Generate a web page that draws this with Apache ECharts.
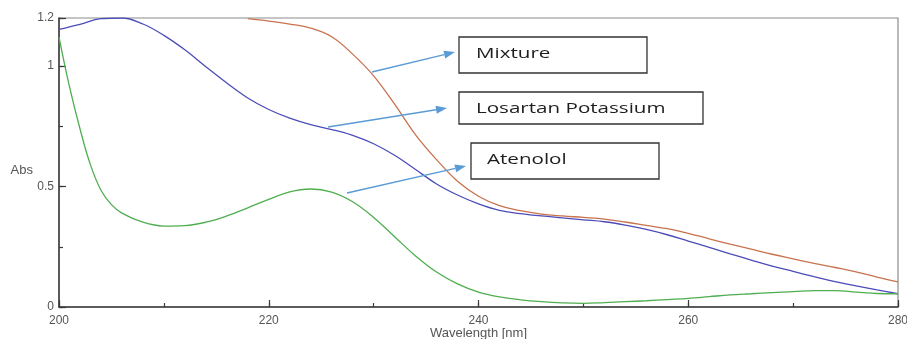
<!DOCTYPE html>
<html>
<head>
<meta charset="utf-8">
<script src="https://cdn.jsdelivr.net/npm/echarts@6/dist/echarts.min.js"></script>
<style>
html,body{margin:0;padding:0;background:#fff;}
#chart{width:907px;height:339px;}
</style>
</head>
<body>
<div id="chart"></div>
<script>
// ---- data ----
const xTickLabels = [200, 220, 240, 260, 280];
const yTickLabels = [0, 0.5, 1, 1.2];

const mixtureWl = [218,220,222,224,226,228,230,232,234,236,238,240,242,244,246,248,250,252,254,256,258,260,262,264,266,268,270,272,274,276,278,280];
const mixtureAbs = [1.197,1.187,1.175,1.158,1.122,1.050,0.960,0.842,0.715,0.612,0.522,0.460,0.421,0.400,0.386,0.378,0.372,0.365,0.353,0.339,0.325,0.306,0.283,0.261,0.240,0.219,0.200,0.181,0.164,0.146,0.124,0.104];

const losartanWl = [200,202,204,206,208,210,212,214,216,218,220,222,224,226,228,230,232,234,236,238,240,242,244,246,248,250,252,254,256,258,260,262,264,266,268,270,272,274,276,278,280];
const losartanAbs = [1.153,1.174,1.197,1.200,1.175,1.128,1.068,0.998,0.930,0.868,0.820,0.784,0.757,0.737,0.713,0.678,0.630,0.571,0.511,0.465,0.428,0.401,0.388,0.378,0.370,0.362,0.354,0.340,0.322,0.300,0.274,0.248,0.221,0.195,0.170,0.148,0.126,0.105,0.088,0.071,0.055];

const atenololWl = [200,201,202,203,204,205,206,208,210,212,214,216,218,220,222,224,226,228,230,232,234,236,238,240,242,244,246,248,250,252,254,256,258,260,262,264,266,268,270,272,274,276,278,280];
const atenololAbs = [1.121,0.915,0.740,0.590,0.485,0.425,0.390,0.352,0.336,0.338,0.352,0.378,0.412,0.447,0.478,0.490,0.477,0.437,0.372,0.292,0.212,0.145,0.096,0.062,0.042,0.030,0.022,0.017,0.015,0.018,0.022,0.026,0.031,0.036,0.043,0.050,0.055,0.060,0.064,0.068,0.068,0.062,0.056,0.055];

const seriesNames = ['Mixture', 'Losartan Potassium', 'Atenolol'];

// ---- build ----
function pairs(xs, ys) { return xs.map((x, i) => [x, ys[i]]); }

const chart = echarts.init(document.getElementById('chart'), null, { renderer: 'canvas' });

const axisFont = { fontFamily: 'Liberation Sans, Arial, sans-serif', fontSize: 12, color: '#555' };

const gridCfg = { left: 59, right: 9, top: 18, bottom: 32, containLabel: false, outerBoundsMode: 'none',
  show: true, borderColor: '#8c8c8c', borderWidth: 1.2, backgroundColor: '#fff' };

const option = {
  animation: false,
  backgroundColor: '#fff',
  grid: gridCfg,
  xAxis: [
    {
      type: 'value', min: 200, max: 280, interval: 20,
      name: 'Wavelength [nm]', nameLocation: 'middle', nameGap: 20, nameMoveOverlap: false,
      nameTextStyle: { fontFamily: 'Liberation Sans, Arial, sans-serif', fontSize: 13, color: '#555' },
      axisLine: { show: true, lineStyle: { color: '#3a3a3a', width: 1.5 } },
      axisTick: { show: true, inside: true, length: 7, lineStyle: { color: '#3a3a3a', width: 1.2 } },
      axisLabel: Object.assign({ margin: 8, formatter: v => xTickLabels.includes(v) ? String(v) : '' }, axisFont),
      splitLine: { show: false }
    },
    {
      type: 'value', min: 200, max: 280, interval: 10, position: 'bottom',
      axisLine: { show: false },
      axisTick: { show: true, inside: true, length: 4, lineStyle: { color: '#3a3a3a', width: 1.2 } },
      axisLabel: { show: false },
      splitLine: { show: false }
    }
  ],
  yAxis: [
    {
      type: 'value', min: 0, max: 1.2, interval: 0.5,
      name: 'Abs', nameLocation: 'middle', nameRotate: 0, nameGap: 26, nameMoveOverlap: false,
      nameTextStyle: { fontFamily: 'Liberation Sans, Arial, sans-serif', fontSize: 13, color: '#555', verticalAlign: 'top', padding: [1, 0, 0, 0] },
      axisLine: { show: true, lineStyle: { color: '#3a3a3a', width: 1.5 } },
      axisTick: { show: true, inside: true, length: 7, lineStyle: { color: '#3a3a3a', width: 1.2 } },
      axisLabel: Object.assign({ margin: 5, formatter: v => yTickLabels.includes(Math.round(v * 100) / 100) ? String(Math.round(v * 100) / 100) : '' }, axisFont),
      splitLine: { show: false }
    },
    {
      type: 'value', min: 0, max: 1.2, interval: 0.25, position: 'left',
      axisLine: { show: false },
      axisTick: { show: true, inside: true, length: 4, lineStyle: { color: '#3a3a3a', width: 1.2 } },
      axisLabel: { show: false },
      splitLine: { show: false }
    }
  ],
  series: [
    { name: seriesNames[0], type: 'line', data: pairs(mixtureWl, mixtureAbs), smooth: 0.4, showSymbol: false, clip: true,
      lineStyle: { color: '#c8724e', width: 1.3 }, itemStyle: { color: '#c8724e' } },
    { name: seriesNames[1], type: 'line', data: pairs(losartanWl, losartanAbs), smooth: 0.4, showSymbol: false, clip: true,
      lineStyle: { color: '#4c4cb8', width: 1.3 }, itemStyle: { color: '#4c4cb8' } },
    { name: seriesNames[2], type: 'line', data: pairs(atenololWl, atenololAbs), smooth: 0.4, showSymbol: false, clip: true,
      lineStyle: { color: '#4fae4f', width: 1.3 }, itemStyle: { color: '#4fae4f' } }
  ]
};

// ---- annotations (callout boxes with arrows) ----
const boxes = [
  { text: seriesNames[0], x: 459, y: 37, w: 188, h: 36, tx: 476, ty: 54, from: [372, 72], to: [455, 52] },
  { text: seriesNames[1], x: 459, y: 92, w: 244, h: 32, tx: 476, ty: 109, from: [328, 127], to: [447, 108] },
  { text: seriesNames[2], x: 471, y: 143, w: 188, h: 36, tx: 487, ty: 160, from: [347, 193], to: [466, 166] }
];

const graphics = [];
const arrowColor = '#5b9bd5';
boxes.forEach(b => {
  graphics.push({ type: 'rect', shape: { x: b.x, y: b.y, width: b.w, height: b.h }, style: { fill: '#fff', stroke: '#333', lineWidth: 1.3 }, z: 100 });
  graphics.push({ type: 'text', x: b.tx, y: b.ty, scaleX: 1.47, scaleY: 1, originX: 0, originY: 0,
    style: { text: b.text, x: 0, y: 0, fill: '#1e1e1e', font: '14px "Open Sans", sans-serif', textVerticalAlign: 'middle', textAlign: 'left' }, z: 101 });
  const dx = b.to[0] - b.from[0], dy = b.to[1] - b.from[1];
  const len = Math.sqrt(dx * dx + dy * dy);
  const ux = dx / len, uy = dy / len;
  const headL = 11, headW = 4;
  const bx = b.to[0] - ux * headL, by = b.to[1] - uy * headL;
  graphics.push({ type: 'line', shape: { x1: b.from[0], y1: b.from[1], x2: bx, y2: by }, style: { stroke: arrowColor, lineWidth: 1.3 }, z: 100 });
  graphics.push({ type: 'polygon', shape: { points: [[b.to[0], b.to[1]], [bx - uy * headW, by + ux * headW], [bx + uy * headW, by - ux * headW]] },
    style: { fill: arrowColor }, z: 100 });
});
option.graphic = graphics;

chart.setOption(option);
</script>
</body>
</html>
